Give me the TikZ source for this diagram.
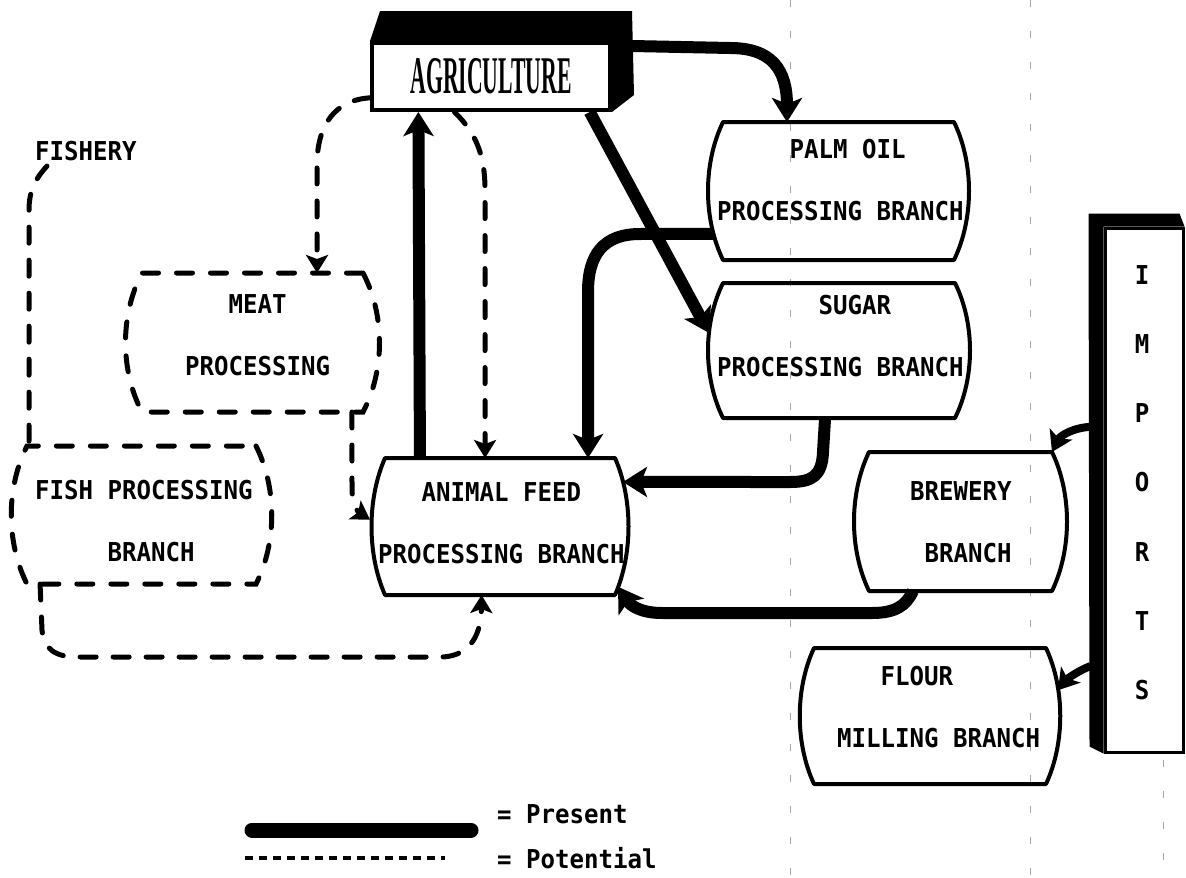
\documentclass[tikz,border=0pt]{standalone}
\usepackage{fontspec}
\usetikzlibrary{arrows.meta,calc}
\newfontfamily\dmfont{DejaVu Sans Mono}[FakeStretch=0.926]
\newfontfamily\agfont{Liberation Serif}[FakeStretch=0.41]

% outline with straight top/bottom and bulging sides, drawn round a named node
\newcommand\barrel[3][]{%
  \draw[#1] (#2.north east)
    .. controls ($(#2.north east)!0.3!(#2.south east)+(#3,0)$) and ($(#2.north east)!0.7!(#2.south east)+(#3,0)$) .. (#2.south east)
    -- (#2.south west)
    .. controls ($(#2.south west)!0.3!(#2.north west)+(-#3,0)$) and ($(#2.south west)!0.7!(#2.north west)+(-#3,0)$) .. (#2.north west)
    -- cycle;}

\begin{document}
\begin{tikzpicture}[x=1pt,y=-1pt,
  frame/.style={rectangle, draw=none, inner sep=0pt, outer sep=0pt},
  solidbox/.style={line width=4pt, line join=round},
  dashbox/.style={line width=5pt, line cap=round, dash pattern=on 16pt off 18pt},
  present/.style={line width=12pt, -{Stealth[length=24pt,width=30pt,inset=6pt]}},
  potentialline/.style={line width=5pt, line cap=round, dash pattern=on 16pt off 17pt},
  potential/.style={potentialline, -{Stealth[length=18pt,width=22pt,inset=4pt]}},
  importarrow/.style={line width=8pt, -{Stealth[length=20pt,width=25pt,inset=5pt]}},
  dmtext/.style={font={\dmfont\bfseries\fontsize{26pt}{62pt}\selectfont}, align=left, inner sep=0pt, anchor=west},
  guide/.style={black!35, line width=0.9pt, dash pattern=on 7pt off 24pt},
  agribox/.style={rectangle, draw, line width=4pt, fill=white, minimum width=238pt, minimum height=67pt, inner sep=0pt,
    font={\agfont\bfseries\fontsize{53pt}{60pt}\selectfont}},
  importbox/.style={rectangle, draw, line width=3pt, minimum width=78pt, minimum height=524pt, inner sep=0pt}
]
\fill[white] (0,0) rectangle (1186,878);
\useasboundingbox (0,0) rectangle (1186,878);

% faint column rulings of the printout paper
\draw[guide] (790,0) -- (790,878);
\draw[guide] (1030,0) -- (1030,878);
\draw[guide] (1163,760) -- (1163,878);

% ---------- boxes ----------
\node[agribox] (agri) at (491,76.5) {AGRICULTURE};
\fill (agri.north west) -- ($(agri.north west)+(10,-30)$) -- ($(agri.north east)+(20,-30)$)
      -- ($(agri.south east)+(22,-17)$) -- (agri.south east) -- (agri.north east) -- cycle;

\node[frame, minimum width=231pt, minimum height=138pt] (palm)    at (838.5,191) {};
\node[frame, minimum width=232pt, minimum height=135pt] (sugar)   at (839,350.5) {};
\node[frame, minimum width=221pt, minimum height=139pt] (meat)    at (252.5,342.5) {};
\node[frame, minimum width=229pt, minimum height=138pt] (fish)    at (141.5,515) {};
\node[frame, minimum width=230pt, minimum height=137pt] (feed)    at (500,526.5) {};
\node[frame, minimum width=183pt, minimum height=139pt] (brewery) at (960.5,521.5) {};
\node[frame, minimum width=232pt, minimum height=136pt] (flour)   at (930,716) {};

\barrel[solidbox]{palm}{20}
\barrel[solidbox]{sugar}{20}
\barrel[dashbox]{meat}{22}
\barrel[dashbox]{fish}{21}
\barrel[solidbox]{feed}{18}
\barrel[solidbox]{brewery}{20}
\barrel[solidbox]{flour}{19}

\node[importbox] (imports) at (1144,490) {};
\fill ($(imports.north west)+(-15,-13)$) -- ($(imports.north east)+(-5,-13)$) -- (imports.north east)
      -- (imports.north west) -- (imports.south west) -- ($(imports.south west)+(-14,-7)$) -- cycle;

% ---------- texts ----------
\node[dmtext] (fishery)   at (35,151)    {FISHERY};
\node[dmtext] (palm-t)    at (717,180.5) {\hphantom{XXXXX}PALM OIL\\PROCESSING BRANCH};
\node[dmtext] (sugar-t)   at (717,336)   {\hphantom{XXXXXXX}SUGAR\\PROCESSING BRANCH};
\node[dmtext] (meat-t)    at (185,335.5) {\hphantom{XXX}MEAT\\PROCESSING};
\node[dmtext] (fish-t)    at (35,521.5)  {FISH PROCESSING\\\hphantom{XXXXX}BRANCH};
\node[dmtext] (feed-t)    at (378,523.5) {\hphantom{XXX}ANIMAL FEED\\PROCESSING BRANCH};
\node[dmtext] (brewery-t) at (910,522)   {BREWERY\\\hphantom{X}BRANCH};
\node[dmtext] (flour-t)   at (837,707.5) {\hphantom{XXX}FLOUR\\MILLING BRANCH};
\node[font={\dmfont\bfseries\fontsize{26pt}{69.2pt}\selectfont}, align=center, inner sep=0pt]
  (imports-t) at (1142,482.5) {I\\M\\P\\O\\R\\T\\S};

% ---------- present flows ----------
\draw[present] ($(agri.north east)+(20,5)$) -- (730,48) .. controls (772,48) and (787,70)
  .. ($(palm.north west)!0.277!(palm.north east)$);
\draw[present] ($(agri.south west)!0.908!(agri.south east)$)
  -- ($(sugar.north west)!0.37!(sugar.south west)+(-14,0)$);
\draw[present] ($(feed.north west)!0.152!(feed.north east)$)
  -- ($(agri.south west)!0.2!(agri.south east)$);
\draw[present] ($(palm.north west)!0.81!(palm.south west)+(-9,0)$) -- (640,234)
  .. controls (603,234) and (588,255) .. (588,292)
  -- ($(feed.north west)!0.883!(feed.north east)$);
\draw[present] ($(sugar.south west)!0.44!(sugar.south east)$) -- (823,452)
  .. controls (822,476) and (812,482) .. (790,482)
  -- ($(feed.north east)!0.175!(feed.south east)+(8,0)$);
\draw[present] ($(brewery.south west)!0.24!(brewery.south east)$)
  .. controls (906,606) and (895,613) .. (872,613) -- (662,613)
  .. controls (640,613) and (630,605) .. ($(feed.south east)!0.06!(feed.north east)+(3,0)$);
\draw[importarrow] ($(imports.north west)!0.38!(imports.south west)+(-13,0)$)
  .. controls (1072,428) and (1060,436) .. (brewery.north east);
\draw[importarrow] ($(imports.north west)!0.834!(imports.south west)+(-13,0)$)
  .. controls (1080,670) and (1068,678) .. ($(flour.north east)!0.31!(flour.south east)+(12,0)$);

% ---------- potential flows ----------
\draw[potential] ($(agri.south west)!0.2!(agri.north west)$)
  .. controls (335,100) and (317,125) .. (317,165)
  -- ($(meat.north west)!0.792!(meat.north east)$);
\draw[potential] ($(agri.south west)!0.349!(agri.south east)$)
  .. controls (476,133) and (485,155) .. (485,190)
  -- ($(feed.north west)!0.435!(feed.north east)$);
\draw[potential] ($(meat.south west)!0.95!(meat.south east)$) -- (352,488)
  .. controls (352,505) and (358,512) .. ($(feed.north west)!0.45!(feed.south west)+(-15,0)$);
\draw[potential] ($(fish.south west)!0.057!(fish.south east)$) -- (42,630)
  .. controls (44,650) and (56,657) .. (78,657) -- (440,657)
  .. controls (466,657) and (481,640) .. ($(feed.south west)!0.42!(feed.south east)$);
\draw[potentialline] ($(fishery.south west)+(12,5)$)
  .. controls (36,178) and (29,190) .. (29,210) -- ($(fish.north west)+(2,0)$);

% ---------- legend ----------
\draw[line width=15pt, line cap=round] (252,830) -- (471,830);
\node[dmtext] (present-t) at (497,814) {= Present};
\draw[line width=4pt, dash pattern=on 8pt off 6pt] (245,858) -- (445,858);
\node[dmtext] (potential-t) at (497,858) {= Potential};
\end{tikzpicture}
\end{document}
